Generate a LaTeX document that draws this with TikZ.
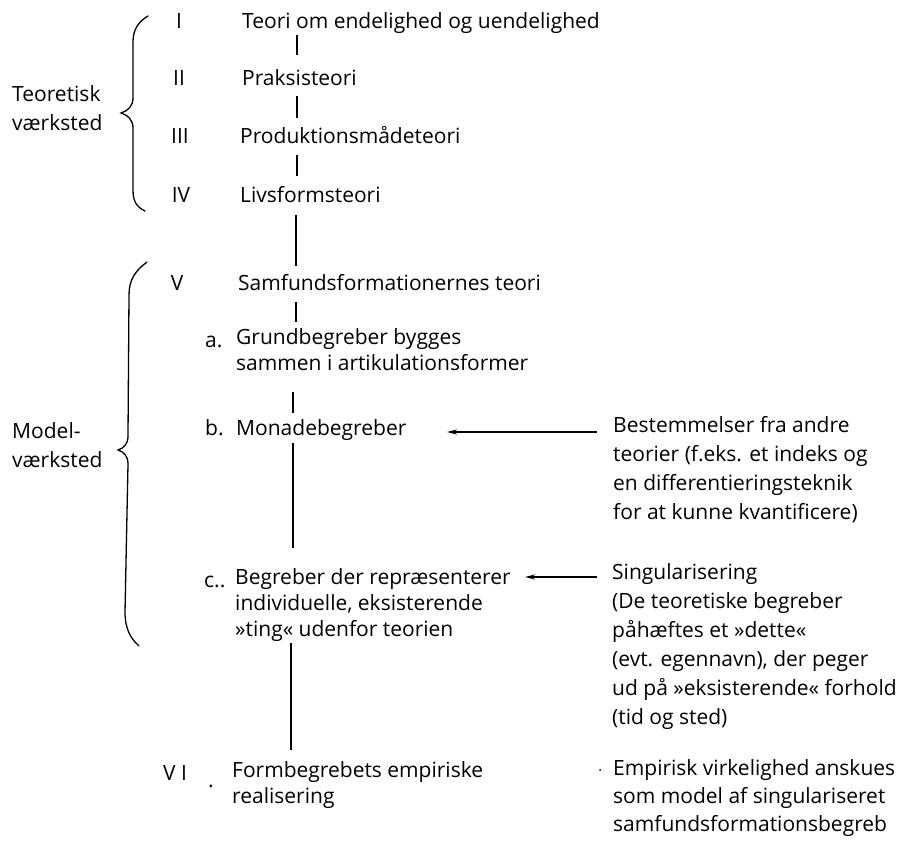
\documentclass[tikz,border=0pt]{standalone}
\usepackage{fontspec}
\setmainfont{Open Sans}
\usetikzlibrary{arrows.meta}
\tikzset{
  lbl/.style={inner sep=0pt, font=\fontsize{21}{29}\selectfont},
  txt/.style={lbl, anchor=base west},
  num/.style={lbl, anchor=base},
  blk/.style={inner sep=0pt, anchor=north west, align=left, font=\fontsize{21}{29}\selectfont, execute at begin node={\strut}},
  blks/.style={blk, font=\fontsize{21}{26}\selectfont},
  blkm/.style={blk, font=\fontsize{21}{28}\selectfont},
  bar/.style={line width=1.5pt},
  bracel/.style={line width=1.3pt, line cap=round},
  arr/.style={line width=1.8pt, -{Stealth[length=10pt,width=5pt]}},
}
\begin{document}
\begin{tikzpicture}[x=1pt,y=-1pt]
\useasboundingbox (0,0) rectangle (905,848);
\fill[white] (0,0) rectangle (905,848);

% theoretical workshop
\node[num] (n1) at (179,29) {I};
\node[txt] (t1) at (242,29) {Teori om endelighed og uendelighed};
\node[num] (n2) at (179,86) {II};
\node[txt] (t2) at (242,86) {Praksisteori};
\node[num] (n3) at (180,144) {III};
\node[txt] (t3) at (240,144) {Produktionsmådeteori};
\node[num] (n4) at (181,202) {IV};
\node[txt] (t4) at (240,202) {Livsformsteori};

% model workshop
\node[num] (n5) at (177,290) {V};
\node[txt] (t5) at (238,290) {Samfundsformationernes teori};
\node[txt] (la) at (205,347) {a.};
\node[blks] (ta) at (236,328.8) {Grundbegreber bygges\\sammen i artikulationsformer};
\node[txt] (lb) at (205,435) {b.};
\node[txt] (tb) at (236,435) {Monadebegreber};
\node[txt] (lc) at (204,587) {c..};
\node[blks] (tc) at (235,568.8) {Begreber der repræsenterer\\individuelle, eksisterende\\»ting« udenfor teorien};
\node[txt] (n6) at (163,780) {V I};
\node[txt] (dt) at (208,787) {.};
\node[blks] (t6) at (232,761.8) {Formbegrebets empiriske\\realisering};

% left labels
\node[blk] (lt) at (12,85.7) {Teoretisk\\værksted};
\node[blk] (lm) at (12,422.7) {Model-\\værksted};

% right texts
\node[blk] (r1) at (613,416.7) {Bestemmelser fra andre\\teorier (f.eks. et indeks og\\en differentieringsteknik\\for at kunne kvantificere)};
\node[blk] (r2) at (612,563.7) {Singularisering\\(De teoretiske begreber\\påhæftes et »dette«\\(evt. egennavn), der peger\\ud på »eksisterende« forhold\\(tid og sted)};
\node[blkm] (r3) at (613,759.4) {Empirisk virkelighed anskues\\som model af singulariseret\\samfundsformationsbegreb};
\fill (600,770) circle (1pt);

% braces
\draw[bracel] (148,16) .. controls (138,22) and (133,30) .. (133,42) -- (133,98)
  .. controls (133,106) and (128,111) .. (121,113)
  .. controls (128,115) and (133,120) .. (133,128) -- (133,190)
  .. controls (133,202) and (137,207) .. (145,211);
\draw[bracel] (147,262) .. controls (135,271) and (129,280) .. (129,295) -- (128,436)
  .. controls (128,444) and (124,448) .. (118,450)
  .. controls (124,452) and (128,456) .. (128,464) -- (125,612)
  .. controls (125,628) and (130,638) .. (139,646);

% connector coordinates
\coordinate (c1a) at (297,35);  \coordinate (c1b) at (297,55);
\coordinate (c2a) at (297,96);  \coordinate (c2b) at (297,118);
\coordinate (c3a) at (297,155); \coordinate (c3b) at (297,176);
\coordinate (c4a) at (296,215); \coordinate (c4b) at (296,266);
\coordinate (c5a) at (296,302); \coordinate (c5b) at (296,322);
\coordinate (c6a) at (293,392); \coordinate (c6b) at (293,413);
\coordinate (c7a) at (293,443); \coordinate (c7b) at (293,548);
\coordinate (c8a) at (291,643); \coordinate (c8b) at (291,750);
\draw[bar] (c1a) -- (c1b);
\draw[bar] (c2a) -- (c2b);
\draw[bar] (c3a) -- (c3b);
\draw[bar] (c4a) -- (c4b);
\draw[bar] (c5a) -- (c5b);
\draw[bar] (c6a) -- (c6b);
\draw[bar] (c7a) -- (c7b);
\draw[bar] (c8a) -- (c8b);

% arrows
\coordinate (a1s) at (597,432); \coordinate (a1e) at (447,432);
\coordinate (a2s) at (597,577); \coordinate (a2e) at (525,577);
\draw[arr] (a1s) -- (a1e);
\draw[arr] (a2s) -- (a2e);
\end{tikzpicture}
\end{document}
